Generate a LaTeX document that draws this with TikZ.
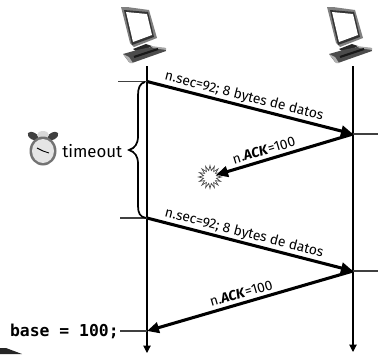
\documentclass[tikz,border=0pt]{standalone}
\usepackage{fontspec}
\setmainfont{Fira Sans}
\newfontfamily\codefont{DejaVu Sans Mono}
\usetikzlibrary{arrows.meta}
\tikzset{
 px/.style={x=0.75pt,y=-0.75pt},
 life/.style={draw=black,line width=0.8pt,-{Triangle[length=5.5pt,width=5.5pt]}},
 tick/.style={draw=black!75,line width=0.8pt},
 msg/.style={draw=black,line width=2.3pt,-{Triangle[length=9pt,width=8pt]}},
 lbl/.style={font=\fontsize{10.4}{12}\selectfont,inner sep=0pt,text=black},
}
\newcommand{\pcicon}[2]{%
 \begin{scope}[shift={(#1,#2)}]
  \fill[black!50] (0,0) -- (6,0) -- (28,3) -- (36,31) -- (13,40) -- (9,36) -- cycle;
  \fill[black!80] (3,3) -- (27,5) -- (33,30) -- (11,38) -- cycle;
  \fill[white] (5,5) -- (26,7) -- (31,28) -- (12,35) -- cycle;
  \fill[black!85] (12,42) -- (25,37) -- (31,39) -- (18,46) -- cycle;
  \fill[black!70] (2,47) -- (16,43) -- (30,40) -- (44,41) -- (45,44) -- (11,56) -- (8,55) -- cycle;
  \fill[black!30] (2,47) -- (9,56) -- (12,56) -- (8,50) -- cycle;
  \fill[black!35] (30,39) -- (45,41) -- (45,43) -- (32,41) -- cycle;
  \draw[black!90,line width=1.6pt] (13,50) -- (37,42);
 \end{scope}}
\begin{document}
\begin{tikzpicture}[px]
\useasboundingbox (0,0) rectangle (378,354);
\pcicon{121}{7}
\pcicon{327}{7}
\coordinate (ltop) at (147,66);
\coordinate (lbot) at (147,353);
\coordinate (rtop) at (353,66);
\coordinate (rbot) at (353,352);
\draw[life] (ltop) -- (lbot);
\draw[life] (rtop) -- (rbot);
\coordinate (t1) at (118,81.5);
\coordinate (s1) at (147,81.5);
\coordinate (r1) at (353,134);
\coordinate (r1e) at (378,134);
\coordinate (t2) at (120,218);
\coordinate (s2) at (147,218);
\coordinate (r2) at (353,271);
\coordinate (r2e) at (378,271);
\coordinate (bx) at (147,331);
\coordinate (burstend) at (216,175);
\draw[tick] (t1) -- (s1);
\draw[tick] (r1) -- (r1e);
\draw[tick] (t2) -- (s2);
\draw[tick] (r2) -- (r2e);
\node[inner sep=0pt,anchor=east,font=\codefont\fontsize{12.3}{14}\selectfont\bfseries] (base) at (119,331) {base = 100;};
\draw[tick] (base.east) ++(1,0) -- (bx);
\draw[msg] (s1) -- node[lbl,sloped,above=1pt,pos=0.46] {n.sec=92; 8 bytes de datos} (r1);
\draw[msg] (s2) -- node[lbl,sloped,above=1pt,pos=0.46] {n.sec=92; 8 bytes de datos} (r2);
\draw[black!70,line width=0.5pt,fill=white]
 plot[samples=33,domain=0:360] ({210+(mod(round(\x/11.25),2)==0?11.5:6.5)*cos(\x)},{177+(mod(round(\x/11.25),2)==0?11.5:6.5)*sin(\x)}) -- cycle;
\draw[msg] (r1) -- node[lbl,sloped,above=2.5pt,pos=0.63] {n.\textbf{\textit{ACK}}=100} (burstend);
\draw[msg] (r2) -- node[lbl,sloped,above=2.5pt,pos=0.53] {n.\textbf{\textit{ACK}}=100} (bx);
\draw[line width=1.3pt] (145,82) .. controls (140,83) and (138,88) .. (138,95) -- (138,136) .. controls (138,144) and (135,148) .. (129,150) .. controls (135,152) and (138,156) .. (138,164) -- (138,206) .. controls (138,213) and (140,217) .. (146,218);
\node[inner sep=0pt,anchor=west,font=\fontsize{12.6}{14}\selectfont] (tm) at (62,151) {timeout};
\begin{scope}[shift={(43,151)}]
 \fill[black!75,rotate=-30] (-16,-8) ellipse (6 and 3.5);
 \fill[black!75,rotate=30] (16,-8) ellipse (6 and 3.5);
 \fill[black!15] (0,-16) ellipse (6 and 4);
 \fill[black!55] (0,0) ellipse (13.5 and 14.5);
 \fill[black!10] (0,0) ellipse (11 and 12);
 \draw[black,line width=0.7pt] (0,0) -- (6,2) (0,0) -- (-6,-3);
\end{scope}
\fill[black!85] (0,348) -- (6,348) -- (22,354) -- (0,354) -- cycle;
\end{tikzpicture}
\end{document}
